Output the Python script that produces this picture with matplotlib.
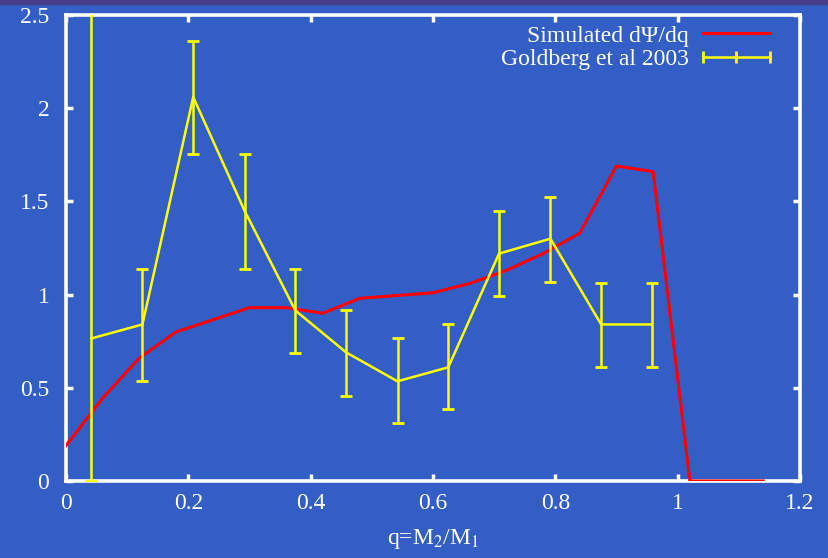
import matplotlib.pyplot as plt
from matplotlib.lines import Line2D
from matplotlib.patches import Rectangle

plt.rcParams["font.family"] = ["Liberation Serif", "DejaVu Serif"]
plt.rcParams["mathtext.fontset"] = "stix"

# Simulated distribution dPsi/dq
q_sim = [0.0, 0.06, 0.12, 0.18, 0.30, 0.36, 0.42, 0.48, 0.60, 0.66, 0.72,
         0.78, 0.84, 0.90, 0.96, 1.02, 1.14]
psi_sim = [0.19, 0.445, 0.66, 0.80, 0.93, 0.93, 0.90, 0.98, 1.01, 1.06, 1.13,
           1.22, 1.33, 1.69, 1.66, 0.0, 0.0]

# Goldberg et al 2003
q_obs = [0.0417, 0.125, 0.208, 0.292, 0.375, 0.458, 0.542, 0.625, 0.708,
         0.792, 0.875, 0.958]
psi_obs = [0.765, 0.84, 2.06, 1.45, 0.915, 0.69, 0.535, 0.61, 1.22, 1.30,
           0.84, 0.84]
err_lo = [0.765, 0.305, 0.305, 0.31, 0.23, 0.235, 0.225, 0.225, 0.23, 0.23,
          0.23, 0.23]
err_hi = [1.80, 0.30, 0.30, 0.305, 0.225, 0.225, 0.23, 0.23, 0.23, 0.225,
          0.225, 0.225]

bg = "#335ec5"
fig = plt.figure(figsize=(8.29, 5.58), dpi=100, facecolor=bg)
fig.patches.append(Rectangle((0, 0.993), 1, 0.007, transform=fig.transFigure,
                             color="#483d8b", zorder=0))
ax = fig.add_axes([0.0796, 0.138, 0.8854, 0.835])
ax.set_facecolor(bg)

ax.plot(q_sim, psi_sim, color="#ff0000", lw=2.2, zorder=3)
ax.errorbar(q_obs, psi_obs, yerr=[err_lo, err_hi], color="#ffff00", lw=1.8,
            elinewidth=1.8, capsize=4.5, capthick=2, zorder=4)

ax.set_xlim(0, 1.2)
ax.set_ylim(0, 2.5)
ax.set_xticks([0, 0.2, 0.4, 0.6, 0.8, 1.0, 1.2])
ax.set_xticklabels(["0", "0.2", "0.4", "0.6", "0.8", "1", "1.2"])
ax.set_yticks([0, 0.5, 1.0, 1.5, 2.0, 2.5])
ax.set_yticklabels(["0", "0.5", "1", "1.5", "2", "2.5"])

for s in ax.spines.values():
    s.set_color("white")
    s.set_linewidth(2.6)
ax.tick_params(direction="in", length=5, width=2.5, colors="white",
               labelsize=17, top=True, right=True)
ax.tick_params(axis="x", pad=9)
ax.tick_params(axis="y", pad=12)

ax.set_xlabel("q=M$_2$/M$_1$", color="white", fontsize=17, labelpad=9)

handles = [Line2D([], [], color="#ff0000", lw=2.2),
           Line2D([], [], color="#ffff00", lw=1.8, marker="|", ms=8, mew=2)]
leg = ax.legend(handles, ["Simulated d\u03a8/dq", "Goldberg et al 2003"],
                loc="upper right", frameon=False, markerfirst=False,
                fontsize=17, handlelength=3.45, numpoints=3,
                handletextpad=0.3, borderaxespad=0.2, labelspacing=0.1,
                bbox_to_anchor=(0.988, 1.009))
for t in leg.get_texts():
    t.set_color("white")

fig.savefig("out.png", dpi=100, facecolor=bg)
